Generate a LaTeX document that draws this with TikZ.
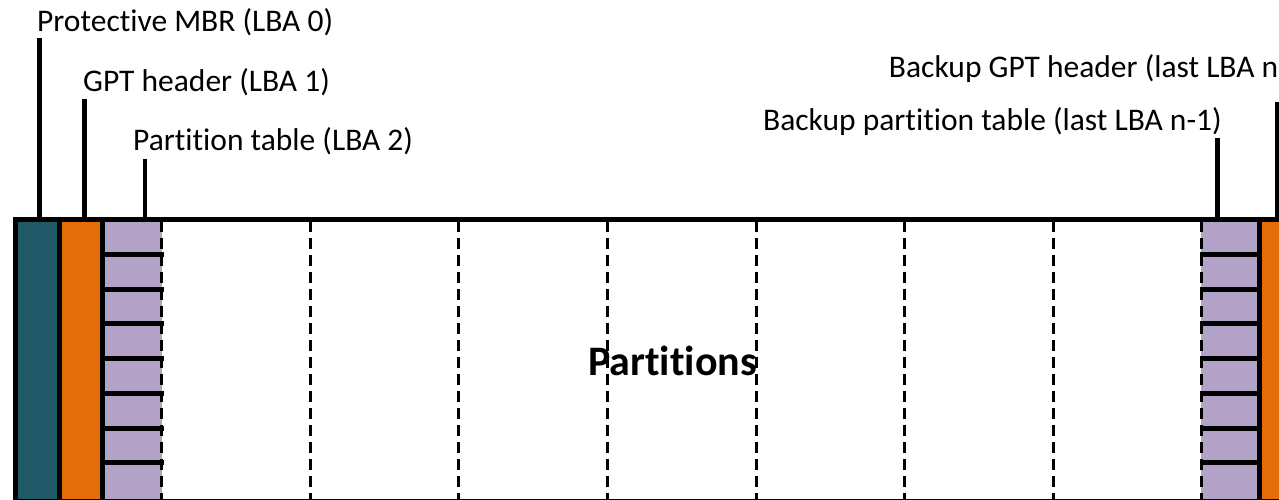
\documentclass[tikz,border=0pt]{standalone}
\usepackage{fontspec}
\setmainfont{Carlito}[Ligatures=NoCommon]
\newfontfamily\lblfont{Carlito}[Ligatures=NoCommon]
\definecolor{mbrteal}{RGB}{33,89,104}
\definecolor{hdrorange}{RGB}{228,108,10}
\definecolor{tablelilac}{RGB}{179,162,199}

\begin{document}
\begin{tikzpicture}[x=1pt,y=-1pt,
  rule/.style={line width=5pt},
  leader/.style={line width=4.5pt},
  divider/.style={line width=3pt, dash pattern=on 11pt off 6pt},
  lbl/.style={anchor=base west, inner sep=0pt, font=\lblfont\fontsize{31.5}{36}\selectfont},
  biglbl/.style={anchor=base, inner sep=0pt, font=\bfseries\fontsize{42}{48}\selectfont},
]
\useasboundingbox (0,0) rectangle (1279,499);
\clip (0,0) rectangle (1279,499);

% coloured sectors of the disk
\fill[mbrteal]    (15,219)   rectangle (60,501);
\fill[hdrorange]  (60,219)   rectangle (102,501);
\fill[tablelilac] (102,219)  rectangle (162,501);
\fill[tablelilac] (1201,219) rectangle (1260,501);
\fill[hdrorange]  (1260,219) rectangle (1300,501);

% centre label (drawn first, the dividers run over it)
\node[biglbl] (parts) at (672.5,375) {Partitions};

% dashed partition dividers
\foreach \i in {0,...,7}{
  \coordinate (dtop\i) at ({161.5+148.64*\i},221);
  \coordinate (dbot\i) at ({161.5+148.64*\i},499);
  \draw[divider] (dtop\i) -- (dbot\i);
}

% entries of both partition tables
\foreach \k in {1,...,7}{
  \coordinate (pl\k) at (102.5,{219.5+34.75*\k});
  \coordinate (pr\k) at (163.5,{219.5+34.75*\k});
  \coordinate (ql\k) at (1199.5,{219.5+34.75*\k});
  \coordinate (qr\k) at (1259.5,{219.5+34.75*\k});
  \draw[rule] (pl\k) -- (pr\k);
  \draw[rule] (ql\k) -- (qr\k);
}

% outline and sector boundaries
\coordinate (fbl) at (15.5,500.5);
\coordinate (ftl) at (15.5,219.5);
\coordinate (ftr) at (1300,219.5);
\coordinate (fbr) at (1300,500.5);
\draw[rule] (fbl) -- (ftl) -- (ftr);
\draw[line width=4pt] (fbl) -- (fbr);
\coordinate (s1t) at (59.5,219.5);   \coordinate (s1b) at (59.5,500);
\coordinate (s2t) at (102.5,219.5);  \coordinate (s2b) at (102.5,500);
\coordinate (s3t) at (1259.5,219.5); \coordinate (s3b) at (1259.5,500);
\draw[rule] (s1t) -- (s1b);
\draw[rule] (s2t) -- (s2b);
\draw[rule] (s3t) -- (s3b);

% labels
\node[lbl] (mbr)  at (37,31)   {Protective MBR (LBA 0)};
\node[lbl] (gpt)  at (83,91)   {GPT header (LBA 1)};
\node[lbl] (ptab) at (133,150) {Partition table (LBA 2)};
\node[lbl, anchor=base east] (bgpt) at (1288,77) {Backup GPT header (last LBA n)};
\node[lbl, anchor=base east] (bptab) at (1222,130) {Backup partition table (last LBA n-1)};

% leader lines from labels down to their sectors
\coordinate (mbrtip)   at (39.5,38);   \coordinate (mbrfoot)   at (39.5,219.5);
\coordinate (gpttip)   at (84.5,99);   \coordinate (gptfoot)   at (84.5,219.5);
\coordinate (ptabtip)  at (145,159);   \coordinate (ptabfoot)  at (145,219.5);
\coordinate (bptabtip) at (1217.5,138);\coordinate (bptabfoot) at (1217.5,219.5);
\coordinate (bgpttip)  at (1277,102);  \coordinate (bgptfoot)  at (1277,219.5);
\draw[leader] (mbrtip)   -- (mbrfoot);
\draw[leader] (gpttip)   -- (gptfoot);
\draw[leader] (ptabtip)  -- (ptabfoot);
\draw[leader] (bptabtip) -- (bptabfoot);
\draw[leader] (bgpttip)  -- (bgptfoot);
\end{tikzpicture}
\end{document}
